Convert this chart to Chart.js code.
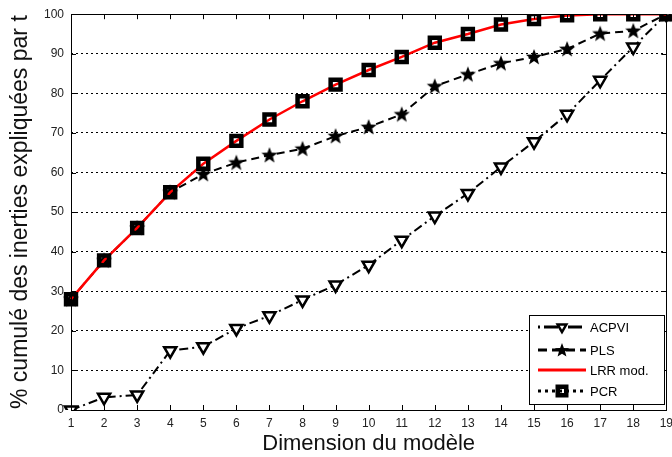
<!DOCTYPE html>
<html>
<head>
<meta charset="utf-8">
<script src="https://cdn.jsdelivr.net/npm/chart.js@4"></script>
<style>
  html, body { margin: 0; padding: 0; background: #fff; overflow: hidden; }
  #wrap { width: 672px; height: 457px; position: relative; overflow: hidden; }
  #c { position: absolute; left: 0; top: 0; }
</style>
</head>
<body>
<div id="wrap"><canvas id="c" width="679" height="457"></canvas></div>
<script>
// ---- data ----
const dimensions = ['1','2','3','4','5','6','7','8','9','10','11','12','13','14','15','16','17','18','19'];
const acpvi = [0, 3.2, 3.8, 15, 16, 20.6, 23.8, 27.8, 31.6, 36.6, 42.9, 49, 54.7, 61.4, 67.8, 74.7, 83.3, 91.7, 100];
const pls   = [28, 37.8, 46, 55, 59.6, 62.5, 64.4, 66, 69.2, 71.5, 74.7, 81.8, 84.8, 87.6, 89.2, 91.2, 95.1, 95.8, 100];
const lrr   = [28, 37.8, 46, 55, 62.2, 68, 73.4, 78, 82.2, 85.9, 89.2, 92.8, 95, 97.4, 98.8, 99.7, 100, 100, 100];
const pcr   = [28, 37.8, 46, 55, 62.2, 68, 73.4, 78, 82.2, 85.9, 89.2, 92.8, 95, 97.4, 98.8, 99.7, 100, 100, 100];
const seriesNames = ['ACPVI', 'PLS', 'LRR mod.', 'PCR'];
const yTicks = [0, 10, 20, 30, 40, 50, 60, 70, 80, 90, 100];
const xTitle = 'Dimension du modèle';
const yTitle = '% cumulé des inerties expliquées par t';

// filled star marker
function makeStar(size, outerR, innerR) {
  const cv = document.createElement('canvas');
  cv.width = size; cv.height = size;
  const g = cv.getContext('2d');
  g.fillStyle = '#000';
  g.beginPath();
  for (let i = 0; i < 10; i++) {
    const r = i % 2 === 0 ? outerR : innerR;
    const a = -Math.PI / 2 + i * Math.PI / 5;
    const px = size / 2 + r * Math.cos(a), py = size / 2 + 0.5 + r * Math.sin(a);
    if (i === 0) g.moveTo(px, py); else g.lineTo(px, py);
  }
  g.closePath();
  g.fill();
  return cv;
}
const starImg = makeStar(18, 8.5, 3.6);
const starSmall = makeStar(16, 7.5, 3.2);

const boxPlugin = {
  id: 'boxPlugin',
  afterDatasetsDraw(chart) {
    const ctx = chart.ctx, a = chart.chartArea;
    const xs = chart.scales.x, ys = chart.scales.y;
    ctx.save();
    ctx.strokeStyle = '#000';
    ctx.lineWidth = 1;
    ctx.setLineDash([]);
    ctx.strokeRect(Math.round(a.left) + 0.5, Math.round(a.top) + 0.5, Math.round(a.right - a.left), Math.round(a.bottom - a.top));
    const tl = 5;
    ctx.beginPath();
    dimensions.forEach((d, i) => {
      const px = Math.round(xs.getPixelForValue(i)) + 0.5;
      ctx.moveTo(px, a.bottom); ctx.lineTo(px, a.bottom - tl);
      ctx.moveTo(px, a.top); ctx.lineTo(px, a.top + tl);
    });
    yTicks.forEach(v => {
      const py = Math.round(ys.getPixelForValue(v)) + 0.5;
      ctx.moveTo(a.left, py); ctx.lineTo(a.left + tl, py);
      ctx.moveTo(a.right, py); ctx.lineTo(a.right - tl, py);
    });
    ctx.stroke();
    ctx.restore();
  },
  afterDraw(chart) {
    // legend drawn from dataset styles
    const ctx = chart.ctx;
    const bx = 529, by = 315, bw = 135, bh = 89;
    ctx.save();
    ctx.fillStyle = '#fff';
    ctx.fillRect(bx, by, bw, bh);
    ctx.strokeStyle = '#000';
    ctx.lineWidth = 1;
    ctx.setLineDash([]);
    ctx.strokeRect(bx + 0.5, by + 0.5, bw, bh);
    const rows = [327, 350, 370, 391];
    [0, 1, 2, 3].forEach((di, k) => {
      const ds = chart.data.datasets[di];
      const y = rows[k];
      ctx.strokeStyle = ds.legendColor || ds.borderColor;
      ctx.lineWidth = ds.legendWidth || ds.borderWidth;
      ctx.setLineDash(ds.legendDash || ds.borderDash || []);
      ctx.beginPath();
      ctx.moveTo(538, y); ctx.lineTo(586, y);
      ctx.stroke();
      ctx.setLineDash([]);
      if (ds.pointRadius > 0) {
        ctx.fillStyle = ds.pointBackgroundColor;
        ctx.strokeStyle = ds.pointBorderColor;
        ctx.lineWidth = ds.pointBorderWidth;
        Chart.helpers.drawPoint(ctx, {
          pointStyle: ds.legendPointStyle || ds.pointStyle, radius: ds.legendRadius || ds.pointRadius,
          rotation: ds.pointRotation || 0, borderWidth: ds.pointBorderWidth
        }, 562, y);
      }
      ctx.fillStyle = '#000';
      ctx.font = '13px "Liberation Sans", Arial, sans-serif';
      ctx.textBaseline = 'middle';
      ctx.textAlign = 'left';
      ctx.fillText(ds.label, 590, y + 1);
    });
    ctx.restore();
  }
};

new Chart(document.getElementById('c'), {
  type: 'line',
  data: {
    labels: dimensions,
    datasets: [
      {
        label: seriesNames[0], data: acpvi, order: 3,
        borderColor: '#000', borderWidth: 2, borderDash: [9, 4, 2, 4], legendDash: [2, 4, 14, 4], legendWidth: 3,
        pointStyle: 'triangle', pointRotation: 180, pointRadius: 7, legendRadius: 5,
        pointBorderWidth: 2.5, pointBorderColor: '#000', pointBackgroundColor: '#fff',
        fill: false, tension: 0
      },
      {
        label: seriesNames[1], data: pls, order: 2,
        borderColor: '#000', borderWidth: 2, borderDash: [8, 5], legendDash: [9, 5], legendWidth: 3,
        pointStyle: starImg, legendPointStyle: starSmall, pointRadius: 8, pointBorderWidth: 0,
        pointBorderColor: '#000', pointBackgroundColor: '#000',
        fill: false, tension: 0
      },
      {
        label: seriesNames[2], data: lrr, order: 1,
        borderColor: '#ff0000', borderWidth: 2.5, legendWidth: 3, pointRadius: 0,
        fill: false, tension: 0
      },
      {
        label: seriesNames[3], data: pcr, order: 0,
        borderColor: 'rgba(0,0,0,0)', legendColor: '#000', legendWidth: 3, borderWidth: 2, borderDash: [2, 4], legendDash: [3, 4],
        pointStyle: 'rect', pointRadius: 7, legendRadius: 6, pointBorderWidth: 4.5,
        pointBorderColor: '#000', pointBackgroundColor: 'rgba(0,0,0,0)',
        fill: false, tension: 0
      }
    ]
  },
  options: {
    responsive: false,
    animation: false,
    devicePixelRatio: 1,
    layout: { padding: { top: 14, right: 4, left: 0, bottom: 0 } },
    plugins: { legend: { display: false }, tooltip: { enabled: false } },
    scales: {
      x: {
        type: 'category',
        offset: false,
        grid: { display: false, drawTicks: false },
        border: { display: false },
        ticks: { color: '#222', font: { size: 12, family: '"Liberation Sans", Arial, sans-serif' }, padding: 6, maxRotation: 0, autoSkip: false },
        title: { display: true, text: xTitle, color: '#111', font: { size: 22, family: '"Liberation Sans", Arial, sans-serif' }, padding: { top: 1, bottom: 0 } },
        afterFit(s) { s.height = 47; }
      },
      y: {
        min: 0, max: 100,
        afterBuildTicks(s) { s.ticks = yTicks.map(v => ({ value: v })); },
        grid: {
          drawTicks: false,
          color: (c) => (c.tick && (c.tick.value === 0 || c.tick.value === 100)) ? 'rgba(0,0,0,0)' : '#000',
          lineWidth: 1
        },
        border: { display: false, dash: [2, 3] },
        ticks: { color: '#222', font: { size: 12, family: '"Liberation Sans", Arial, sans-serif' }, padding: 7 },
        title: { display: true, text: yTitle, color: '#111', font: { size: 23, family: '"Liberation Sans", Arial, sans-serif' }, padding: { top: 7, bottom: 0 } },
        afterFit(s) { s.width = 71; }
      }
    }
  },
  plugins: [boxPlugin]
});
</script>
</body>
</html>
